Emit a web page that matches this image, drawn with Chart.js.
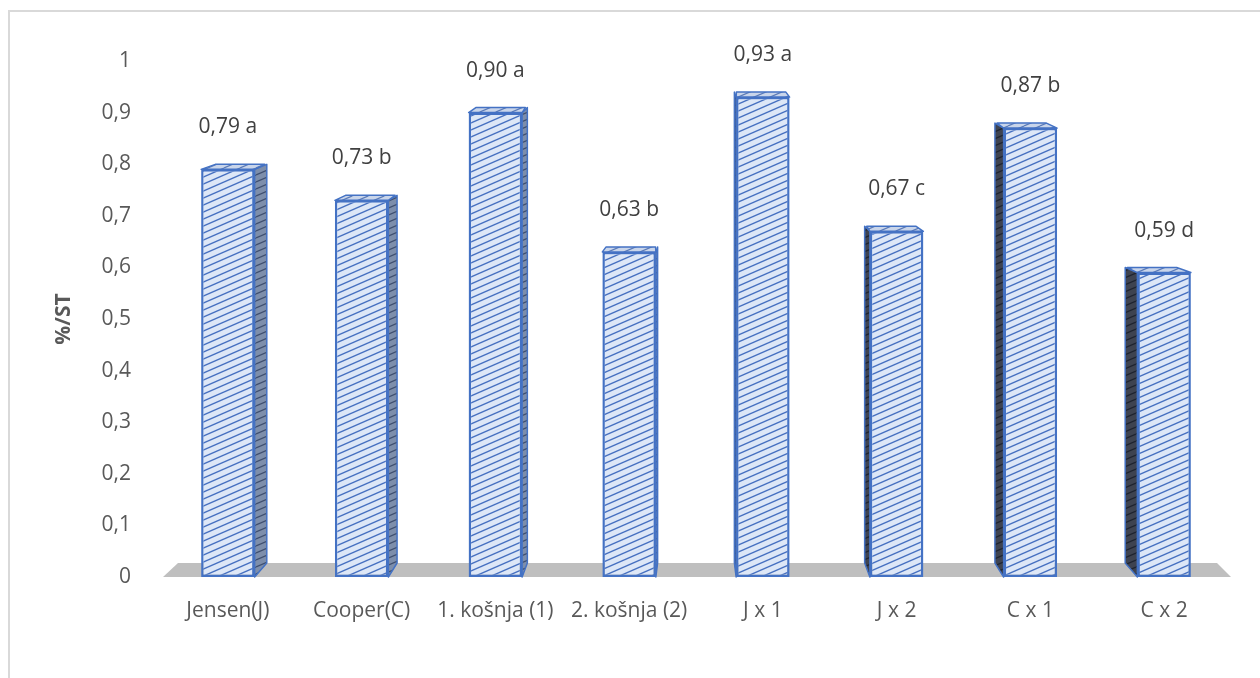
<!DOCTYPE html>
<html>
<head>
<meta charset="utf-8">
<script src="https://cdn.jsdelivr.net/npm/chart.js@4.4.1/dist/chart.umd.min.js"></script>
<style>
    html, body { margin: 0; padding: 0; background: #fff; overflow: hidden; }
    #frame {
        position: absolute; left: 8px; top: 10px; width: 1300px; height: 700px;
        border-top: 2px solid #d9d9d9; border-left: 2px solid #d9d9d9;
    }
    #wrap { position: absolute; left: 0; top: 0; width: 1260px; height: 678px; }
</style>
</head>
<body>
<div id="frame"></div>
<div id="wrap"><canvas id="grafico"></canvas></div>
<script>
const categories = ['Jensen(J)', 'Cooper(C)', '1. košnja (1)', '2. košnja (2)', 'J x 1', 'J x 2', 'C x 1', 'C x 2'];
const values = [0.79, 0.73, 0.90, 0.63, 0.93, 0.67, 0.87, 0.59];
const letters = ['a', 'b', 'a', 'b', 'a', 'c', 'b', 'd'];
const yTicks = [0, 0.1, 0.2, 0.3, 0.4, 0.5, 0.6, 0.7, 0.8, 0.9, 1];

const fmtTick = v => String(Math.round(v * 10) / 10).replace('.', ',');
const fmtValue = v => v.toFixed(2).replace('.', ',');

// hatch tile, diagonal lines going up to the right
const makeHatch = (bg, line, lw) => {
    const c = document.createElement('canvas');
    c.width = 16; c.height = 7;
    const g = c.getContext('2d');
    g.fillStyle = bg;
    g.fillRect(0, 0, 16, 7);
    g.strokeStyle = line;
    g.lineWidth = lw;
    for (let k = -1; k <= 1; k++) {
        g.beginPath();
        g.moveTo(0, 7 + k * 7);
        g.lineTo(16, 0 + k * 7);
        g.stroke();
    }
    return g.createPattern(c, 'repeat');
};

document.addEventListener('DOMContentLoaded', function() {
    const canvas = document.getElementById('grafico');
    const ctx = canvas.getContext('2d');
    const frontFill = makeHatch('#dde7f7', '#4670c0', 1.4);
    const topFill = makeHatch('#c9d5ea', '#5b7bb8', 1.2);
    const rightFill = makeHatch('#7d8eab', '#3f4f70', 1.2);
    const leftFill = makeHatch('#3e4350', '#1f2430', 1.2);

    const depthPlugin = {
        id: 'depth',
        beforeDatasetsDraw(chart) {
            const { left, right } = chart.chartArea;
            const yb = chart.scales.y.getPixelForValue(0);
            const c = chart.ctx;
            c.save();
            c.fillStyle = '#bfbfbf';
            c.beginPath();
            c.moveTo(left + 2, yb);
            c.lineTo(left + 17, yb - 14);
            c.lineTo(right - 14, yb - 14);
            c.lineTo(right, yb);
            c.closePath();
            c.fill();
            c.restore();
        },
        afterDatasetsDraw(chart) {
            const c = chart.ctx;
            const { left, right } = chart.chartArea;
            const cx = (left + right) / 2;
            const meta = chart.getDatasetMeta(0);
            c.save();
            c.strokeStyle = '#4472c4';
            c.lineWidth = 1.5;
            c.lineJoin = 'round';
            meta.data.forEach((bar, i) => {
                const { x, y, base, width } = bar.getProps(['x', 'y', 'base', 'width'], true);
                const L = x - width / 2, R = x + width / 2;
                const dx = (cx - x) * 0.026;
                if (Math.abs(dx) > 1.5) {
                    const e = dx > 0 ? R : L;
                    c.fillStyle = dx > 0 ? rightFill : leftFill;
                    c.beginPath();
                    c.moveTo(e, y);
                    c.lineTo(e + dx, y - 5);
                    c.lineTo(e + dx, base - 14);
                    c.lineTo(e, base);
                    c.closePath();
                    c.fill();
                    c.stroke();
                }
                c.fillStyle = topFill;
                c.beginPath();
                c.moveTo(L, y);
                c.lineTo(L + dx + 2, y - 5);
                c.lineTo(R + dx - 2, y - 5);
                c.lineTo(R, y);
                c.closePath();
                c.fill();
                c.stroke();

                c.fillStyle = '#404040';
                c.font = "21px 'Open Sans', sans-serif";
                c.textAlign = 'center';
                c.textBaseline = 'middle';
                c.fillText(fmtValue(values[i]) + ' ' + letters[i], x, y - 42);
            });
            c.restore();
        }
    };

    Chart.defaults.font.family = "'Open Sans', sans-serif";
    Chart.defaults.font.size = 21;
    Chart.defaults.color = '#595959';

    new Chart(ctx, {
        type: 'bar',
        data: {
            labels: categories,
            datasets: [{
                data: values,
                backgroundColor: frontFill,
                borderColor: '#4472c4',
                borderWidth: 2.5,
                borderSkipped: false,
                barPercentage: 0.4,
                categoryPercentage: 1
            }]
        },
        options: {
            responsive: true,
            maintainAspectRatio: false,
            animation: false,
            layout: { padding: { left: 51, top: 61, right: 29, bottom: 0 } },
            plugins: {
                legend: { display: false },
                tooltip: { enabled: false }
            },
            scales: {
                x: {
                    grid: { display: false },
                    border: { display: false },
                    ticks: { padding: 13, maxRotation: 0, autoSkip: false },
                    afterFit: s => { s.height = 101; }
                },
                y: {
                    min: 0,
                    max: 1,
                    afterBuildTicks: s => { s.ticks = yTicks.map(v => ({ value: v })); },
                    grid: { display: false },
                    border: { display: false },
                    ticks: { padding: 22, callback: v => fmtTick(v) },
                    title: {
                        display: true,
                        text: '%/ST',
                        font: { size: 21, weight: 'bold' },
                        padding: { top: 0, bottom: 0 }
                    },
                    afterFit: s => { s.width = 110; }
                }
            }
        },
        plugins: [depthPlugin]
    });
});
</script>
</body>
</html>
